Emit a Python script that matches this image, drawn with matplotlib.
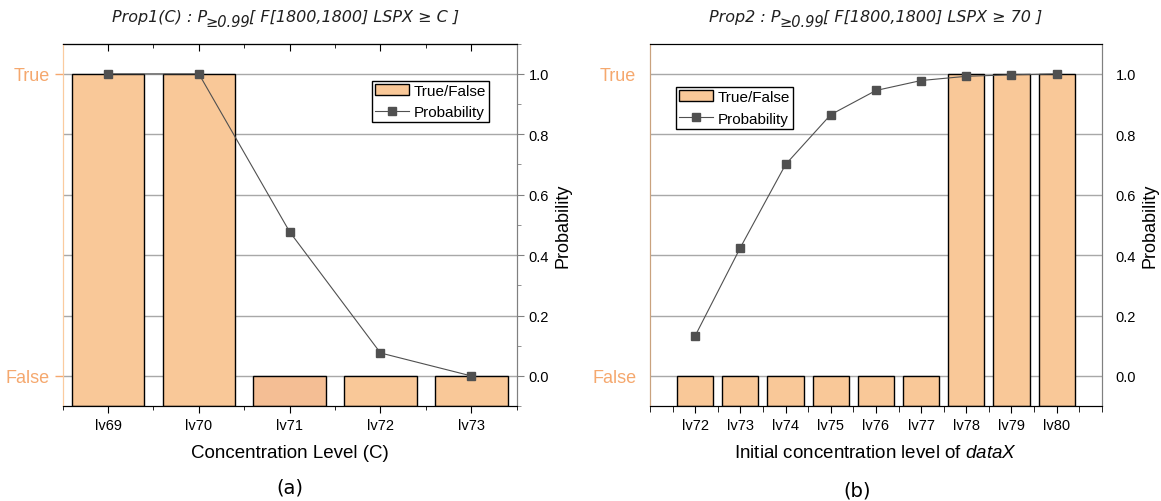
import numpy as np
import matplotlib.pyplot as plt
from matplotlib.patches import Patch
from matplotlib.lines import Line2D
from matplotlib.ticker import MultipleLocator, FixedLocator

plt.rcParams['font.family'] = ['Liberation Sans', 'DejaVu Sans']
plt.rcParams['mathtext.fontset'] = 'custom'
plt.rcParams['mathtext.rm'] = 'Liberation Sans'
plt.rcParams['mathtext.it'] = 'Liberation Sans:italic'
plt.rcParams['mathtext.default'] = 'it'

# panel (a)
levels_a = ['lv69', 'lv70', 'lv71', 'lv72', 'lv73']
truth_a = [1, 1, 0, 0, 0]
prob_a = [1.0, 1.0, 0.477, 0.076, 0.0]

# panel (b)
levels_b = ['lv72', 'lv73', 'lv74', 'lv75', 'lv76', 'lv77', 'lv78', 'lv79', 'lv80']
truth_b = [0, 0, 0, 0, 0, 0, 1, 1, 1]
prob_b = [0.133, 0.425, 0.70, 0.865, 0.945, 0.978, 0.992, 0.997, 1.0]

# titles: text before subscript, subscript, text after
titles = [('Prop1(C) : P', '\u22650.99', '[ F[1800,1800] LSPX \u2265 C ]'),
          ('Prop2 : P', '\u22650.99', '[ F[1800,1800] LSPX \u2265 70 ]')]
xlabels = ['Concentration Level (C)', 'Initial concentration level of $dataX$']

bar_col = '#F9C898'
orange = '#F5A86E'
grey = '#505050'

fig = plt.figure(figsize=(11.61, 5.02), dpi=100)
ax_a = fig.add_axes([0.0540, 0.189, 0.3910, 0.722])
ax_b = fig.add_axes([0.5599, 0.189, 0.3891, 0.722])


def title_parts(ax, parts, x0):
    kw = dict(textcoords='offset points', ha='left', va='baseline',
              family='DejaVu Sans', style='italic', color='#202020')
    t1 = ax.annotate(parts[0], xy=(x0, 1), xycoords='axes fraction',
                     xytext=(0, 16.5), fontsize=11.5, **kw)
    t2 = ax.annotate(parts[1], xy=(1, 1), xycoords=(t1, 'axes fraction'),
                     xytext=(-1, 12.5), fontsize=10.5, **kw)
    ax.annotate(parts[2], xy=(1, 1), xycoords=(t2, 'axes fraction'),
                xytext=(-0.5, 16.5), fontsize=11.5, **kw)


def draw(ax, levels, truth, prob, xlabel, left_col, legend_loc):
    x = np.arange(len(levels))
    ymin, ymax = -0.1, 1.1
    for yv in np.arange(0, 1.01, 0.2):
        ax.axhline(yv, color='#A8A8A8', lw=1, zorder=0)
    cols = [bar_col] * len(levels)
    if len(levels) == 5:
        cols[2] = '#F4BE94'
    ax.bar(x, np.array(truth) - ymin, bottom=ymin, width=0.8, color=cols,
           edgecolor='black', linewidth=1, zorder=2)
    ax.set_ylim(ymin, ymax)
    ax.set_yticks([0, 1])
    ax.set_yticklabels(['False', 'True'], color=orange, fontsize=13)
    ax.set_xticks(x)
    ax.set_xticklabels(levels, fontsize=10.5)
    ax.set_xlabel(xlabel, fontsize=13.5, labelpad=9)
    ax.spines['left'].set_color(left_col)
    ax.spines['right'].set_color('#808080')

    ax2 = ax.twinx()
    ax2.plot(x, prob, color=grey, lw=0.8, marker='s', markersize=5.5,
             markerfacecolor=grey, markeredgecolor=grey, zorder=3)
    ax2.set_ylim(ymin, ymax)
    ax2.set_yticks(np.arange(0, 1.01, 0.2))
    ax2.set_yticklabels(['%.1f' % v for v in np.arange(0, 1.01, 0.2)], fontsize=10.5)
    ax2.set_ylabel('Probability', fontsize=13)
    ax2.spines['right'].set_color('#808080')
    ax2.spines['left'].set_color(left_col)
    handles = [Patch(facecolor=bar_col, edgecolor='black', label='True/False'),
               Line2D([], [], color=grey, lw=0.8, marker='s', markersize=5.5, label='Probability')]
    ax2.legend(handles=handles, loc=legend_loc[0], bbox_to_anchor=legend_loc[1], fontsize=11,
               frameon=True, fancybox=False, edgecolor='black', framealpha=1,
               borderpad=0.2, handlelength=2.2, handletextpad=0.3, borderaxespad=0)
    return ax2


ax2a = draw(ax_a, levels_a, truth_a, prob_a, xlabels[0], '#FBCB9F',
            ('upper right', (0.939, 0.898)))
title_parts(ax2a, titles[0], 0.108)
ax_a.set_xlim(-0.5, 4.5)
ax_a.xaxis.set_minor_locator(FixedLocator(np.arange(-0.5, 4.6, 1)))
ax_a.tick_params(axis='x', which='major', direction='out', length=5)
ax_a.tick_params(axis='x', which='minor', direction='out', length=3)
ax_a.tick_params(axis='y', color=orange, length=6, width=1)
ax2a.yaxis.set_minor_locator(MultipleLocator(0.1))
ax2a.tick_params(axis='y', which='major', length=5, color='#808080')
ax2a.tick_params(axis='y', which='minor', length=3, color='#808080')
# top ticks pointing inward
sec = ax_a.secondary_xaxis('top')
sec.set_xticks(np.arange(0, 5))
sec.set_xticklabels([])
sec.xaxis.set_minor_locator(FixedLocator(np.arange(-0.5, 4.6, 1)))
sec.tick_params(which='major', direction='in', length=5)
sec.tick_params(which='minor', direction='in', length=3)

ax2b = draw(ax_b, levels_b, truth_b, prob_b, xlabels[1], '#C9A27E',
            ('upper left', (0.058, 0.881)))
title_parts(ax2b, titles[1], 0.131)
ax_b.set_xlim(-1, 9)
ax_b.xaxis.set_minor_locator(FixedLocator(np.arange(-1, 9.1, 0.5)))
ax_b.tick_params(axis='x', which='major', length=5)
ax_b.tick_params(axis='x', which='minor', length=4)
ax_b.tick_params(axis='y', length=0, pad=10)
ax2b.tick_params(axis='y', length=0, pad=10)

fig.text(0.250, 0.028, '(a)', ha='center', va='center', fontsize=14, family='DejaVu Sans')
fig.text(0.738, 0.022, '(b)', ha='center', va='center', fontsize=14, family='DejaVu Sans')

plt.savefig('out.png', dpi=100)
